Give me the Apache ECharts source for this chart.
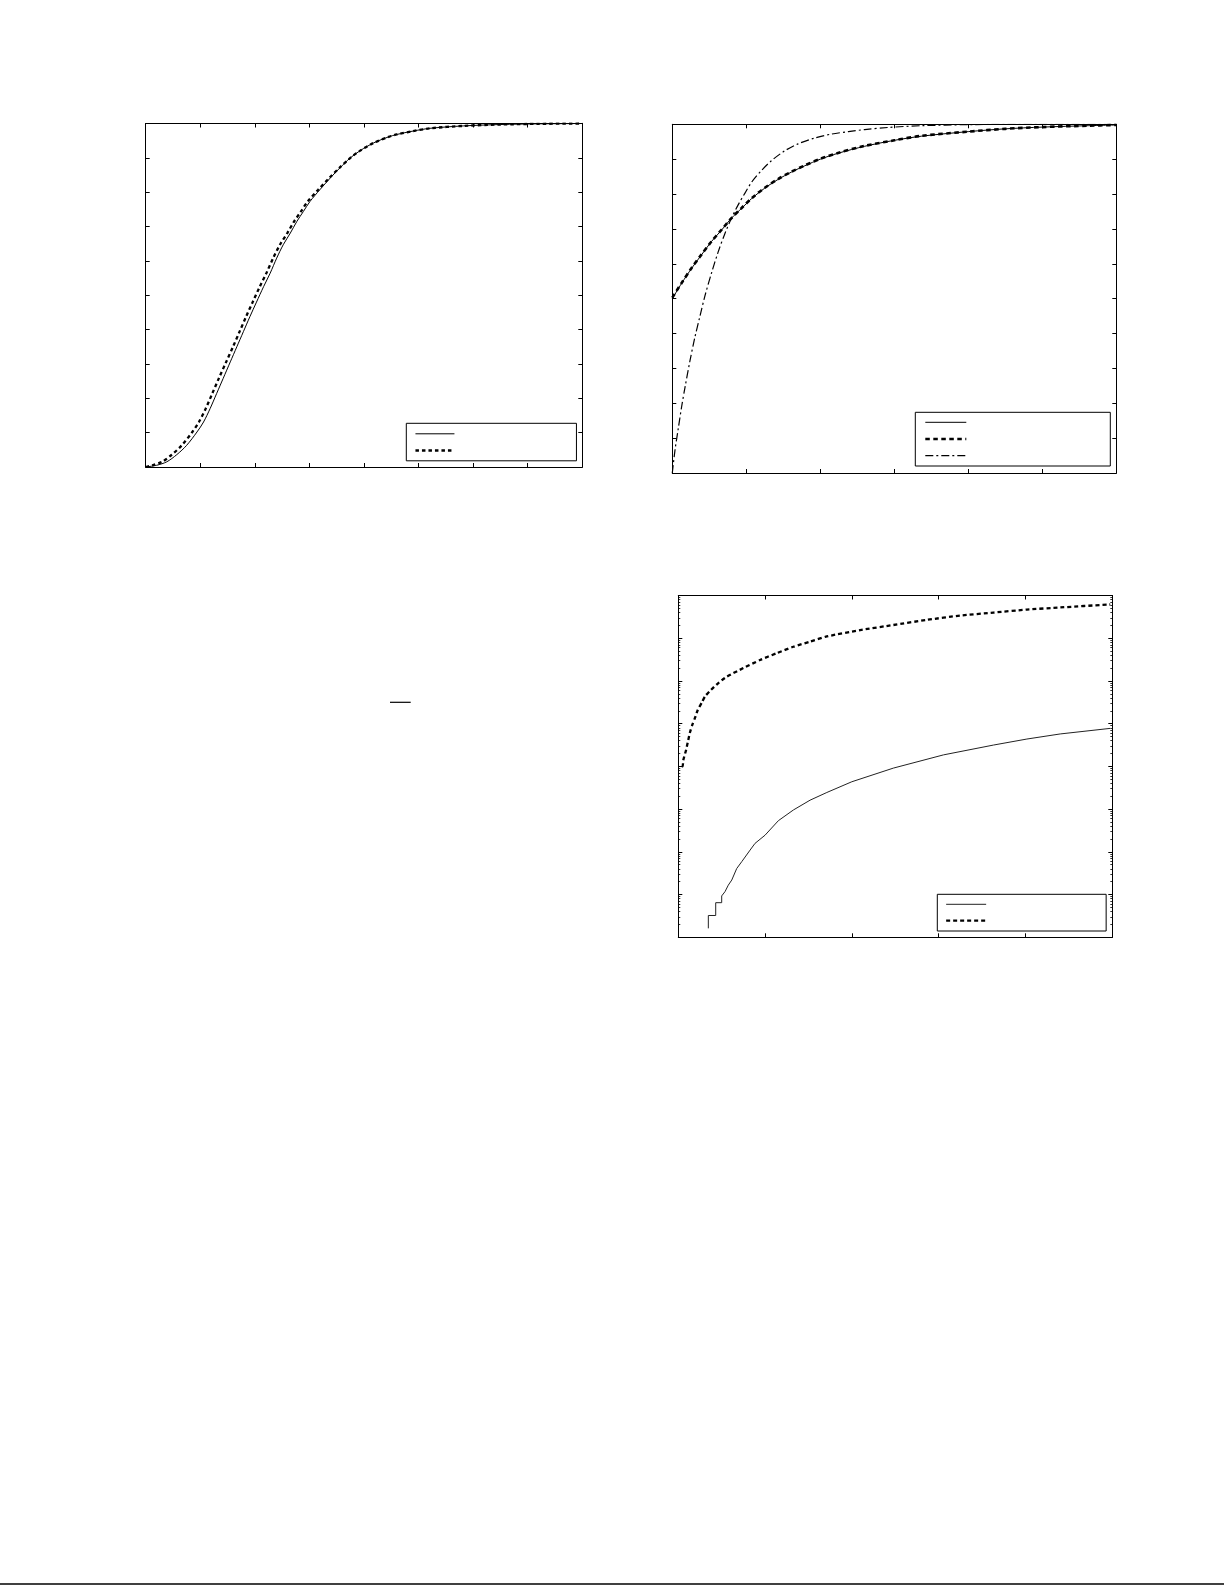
<!DOCTYPE html>
<html>
<head>
<meta charset="utf-8">
<script src="https://cdn.jsdelivr.net/npm/echarts@6/dist/echarts.min.js"></script>
<style>
html,body{margin:0;padding:0;background:#fff;}
#c{width:1225px;height:1585px;}
</style>
</head>
<body>
<div id="c"></div>
<script>
// ---- Panel 1 (top-left): two S-shaped CDF curves ----
const p1SolidX = [0, 0.2, 0.385, 0.57, 0.75, 0.94, 1.06, 1.18, 1.3, 1.42, 1.55, 1.67, 1.79, 1.91, 2.03, 2.16, 2.28, 2.4, 2.52, 2.65, 2.77, 2.89, 3.01, 3.19, 3.38, 3.56, 3.75, 3.93, 4.17, 4.45, 4.6, 4.9, 5.21, 5.82, 6.5, 7.2, 8];
const p1SolidY = [0, 0.005, 0.015, 0.036, 0.063, 0.102, 0.131, 0.17, 0.214, 0.258, 0.306, 0.35, 0.394, 0.438, 0.48, 0.525, 0.564, 0.608, 0.647, 0.681, 0.715, 0.744, 0.773, 0.807, 0.841, 0.871, 0.9, 0.921, 0.943, 0.961, 0.968, 0.978, 0.986, 0.993, 0.997, 0.999, 1.0];
const p1DashX = [0, 0.12, 0.3, 0.48, 0.66, 0.855, 0.975, 1.1, 1.22, 1.34, 1.475, 1.6, 1.72, 1.84, 1.96, 2.09, 2.21, 2.335, 2.46, 2.595, 2.72, 2.845, 2.97, 3.16, 3.36, 3.55, 3.75, 3.93, 4.17, 4.45, 4.6, 4.9, 5.21, 5.82, 6.5, 7.2, 8];
const p1DashY = [0, 0.005, 0.015, 0.036, 0.063, 0.102, 0.131, 0.17, 0.214, 0.258, 0.306, 0.35, 0.394, 0.438, 0.48, 0.525, 0.564, 0.608, 0.647, 0.681, 0.715, 0.744, 0.773, 0.807, 0.841, 0.871, 0.9, 0.921, 0.943, 0.961, 0.968, 0.978, 0.986, 0.993, 0.997, 0.999, 1.0];

// ---- Panel 2 (top-right): two nearly identical curves and a dash-dot curve ----
const p2SolidX = [0, 0.126, 0.261, 0.396, 0.53, 0.667, 0.8, 0.937, 1.072, 1.25, 1.43, 1.61, 1.79, 2.0, 2.24, 2.6, 3.0, 3.37, 4.0, 4.5, 5.0, 5.62, 6.0];
const p2SolidY = [0.5, 0.544, 0.587, 0.626, 0.664, 0.697, 0.731, 0.759, 0.787, 0.817, 0.842, 0.863, 0.881, 0.9, 0.917, 0.937, 0.954, 0.966, 0.979, 0.987, 0.992, 0.996, 0.998];
const p2DashX = [0, 0.126, 0.261, 0.396, 0.53, 0.667, 0.8, 0.937, 1.072, 1.25, 1.43, 1.61, 1.79, 2.0, 2.24, 2.6, 3.0, 3.37, 4.0, 4.5, 5.0, 5.62, 6.0];
const p2DashY = [0.503, 0.545, 0.588, 0.627, 0.664, 0.698, 0.731, 0.76, 0.788, 0.818, 0.843, 0.864, 0.882, 0.901, 0.918, 0.938, 0.954, 0.967, 0.979, 0.987, 0.992, 0.996, 0.998];
const p2DotX = [0, 0.036, 0.081, 0.126, 0.171, 0.239, 0.306, 0.374, 0.441, 0.532, 0.62, 0.71, 0.8, 0.89, 0.98, 1.072, 1.207, 1.342, 1.52, 1.7, 1.93, 2.15, 2.38, 2.6, 2.92, 3.37, 4.0, 5.0, 6.0];
const p2DotY = [0, 0.065, 0.128, 0.19, 0.245, 0.322, 0.39, 0.45, 0.508, 0.575, 0.634, 0.686, 0.731, 0.769, 0.802, 0.834, 0.868, 0.896, 0.924, 0.944, 0.961, 0.972, 0.979, 0.985, 0.991, 0.996, 0.999, 1.0, 1.0];

// ---- Panel 3 (bottom-right): log-scale y ----
const p3SolidX = [0.346, 0.346, 0.431, 0.431, 0.5, 0.5, 0.538, 0.576, 0.616, 0.673, 0.731, 0.827, 0.884, 0.999, 1.153, 1.326, 1.518, 1.711, 1.999, 2.478, 3.055, 3.631, 4.016, 4.4, 4.976];
const p3SolidY = [1.62e-8, 3.24e-8, 3.24e-8, 6.46e-8, 6.46e-8, 9.3e-8, 1.17e-7, 1.66e-7, 2.19e-7, 4.07e-7, 5.89e-7, 1.1e-6, 1.58e-6, 2.45e-6, 5.37e-6, 9.55e-6, 1.62e-5, 2.45e-5, 4.37e-5, 9.12e-5, 1.86e-4, 3.16e-4, 4.37e-4, 5.75e-4, 7.76e-4];
const p3DashX = [0.04, 0.05, 0.058, 0.089, 0.115, 0.135, 0.161, 0.193, 0.224, 0.27, 0.308, 0.357, 0.412, 0.461, 0.558, 0.749, 0.942, 1.134, 1.326, 1.518, 1.711, 2.095, 2.478, 2.863, 3.247, 3.631, 4.016, 4.4, 4.976];
const p3DashY = [1e-4, 1e-4, 1.41e-4, 2.4e-4, 4.17e-4, 6.31e-4, 9.33e-4, 1.38e-3, 2.09e-3, 3.09e-3, 4.37e-3, 5.62e-3, 7.24e-3, 8.91e-3, 1.26e-2, 2.0e-2, 3.09e-2, 4.47e-2, 6.31e-2, 8.32e-2, 0.11, 0.155, 0.204, 0.269, 0.339, 0.398, 0.468, 0.525, 0.617];

const zip = (xs, ys) => xs.map((x, i) => [x, ys[i]]);

// minor tick positions for log axis (2..9 in each decade)
const logMinor = [];
for (let e = -8; e < 0; e++) for (let m = 2; m <= 9; m++) logMinor.push(m * Math.pow(10, e));

const grids = [
  {left: 145.7, top: 123.5, width: 436.6, height: 343.5},
  {left: 672.3, top: 124.3, width: 444, height: 348.7},
  {left: 678.3, top: 595.5, width: 434, height: 341.8}
];

const axLine = {show: true, onZero: false, lineStyle: {color: '#000', width: 1}};
const majTick = {show: true, inside: true, length: 4, lineStyle: {color: '#000', width: 1}};

function xAxes(gi, max) {
  const base = {
    type: 'value', gridIndex: gi, min: 0, max: max, interval: 1,
    axisLine: axLine, axisTick: majTick,
    axisLabel: {show: false}, splitLine: {show: false}
  };
  return [Object.assign({position: 'bottom'}, base), Object.assign({position: 'top'}, base)];
}
function yAxesLin(gi) {
  const base = {
    type: 'value', gridIndex: gi, min: 0, max: 1, interval: 0.1,
    axisLine: axLine, axisTick: majTick,
    axisLabel: {show: false}, splitLine: {show: false}
  };
  return [Object.assign({position: 'left'}, base), Object.assign({position: 'right'}, base)];
}
function yAxesLog(gi) {
  const base = {
    type: 'log', logBase: 10, gridIndex: gi, min: 1e-8, max: 1, interval: 1,
    axisLine: axLine, axisTick: majTick,
    axisLabel: {show: false}, splitLine: {show: false}
  };
  const minor = {
    type: 'log', logBase: 10, gridIndex: gi, min: 1e-8, max: 1,
    axisLine: {show: false, onZero: false},
    axisTick: {show: true, inside: true, length: 2, customValues: logMinor, lineStyle: {color: '#000', width: 0.8}},
    axisLabel: {show: false}, splitLine: {show: false}
  };
  return [
    Object.assign({position: 'left'}, base), Object.assign({position: 'right'}, base),
    Object.assign({position: 'left'}, minor), Object.assign({position: 'right'}, minor)
  ];
}

const xAxis = [].concat(xAxes(0, 8), xAxes(1, 6), xAxes(2, 5));
const yAxis = [].concat(yAxesLin(0), yAxesLin(1), yAxesLog(2));

const lineBase = {type: 'line', symbol: 'none', showSymbol: false, animation: false, silent: true};
const series = [
  Object.assign({}, lineBase, {name: 'a1', xAxisIndex: 0, yAxisIndex: 0, data: zip(p1SolidX, p1SolidY), smooth: 0.3,
    lineStyle: {color: '#000', width: 1, type: 'solid'}, itemStyle: {color: '#000'}}),
  Object.assign({}, lineBase, {name: 'a2', xAxisIndex: 0, yAxisIndex: 0, data: zip(p1DashX, p1DashY), smooth: 0.3,
    lineStyle: {color: '#000', width: 2.3, type: [3.5, 3]}, itemStyle: {color: '#000'}}),
  Object.assign({}, lineBase, {name: 'b1', xAxisIndex: 2, yAxisIndex: 2, data: zip(p2SolidX, p2SolidY), smooth: 0.3,
    lineStyle: {color: '#000', width: 1, type: 'solid'}, itemStyle: {color: '#000'}}),
  Object.assign({}, lineBase, {name: 'b2', xAxisIndex: 2, yAxisIndex: 2, data: zip(p2DashX, p2DashY), smooth: 0.3,
    lineStyle: {color: '#000', width: 2.6, type: [4.5, 3.5]}, itemStyle: {color: '#000'}}),
  Object.assign({}, lineBase, {name: 'b3', xAxisIndex: 2, yAxisIndex: 2, data: zip(p2DotX, p2DotY), smooth: 0.3,
    lineStyle: {color: '#000', width: 1.2, type: [8, 3, 2, 3]}, itemStyle: {color: '#000'}}),
  Object.assign({}, lineBase, {name: 'c1', xAxisIndex: 4, yAxisIndex: 4, data: zip(p3SolidX, p3SolidY), smooth: false,
    lineStyle: {color: '#222', width: 1, type: 'solid'}, itemStyle: {color: '#222'}}),
  Object.assign({}, lineBase, {name: 'c2', xAxisIndex: 4, yAxisIndex: 4, data: zip(p3DashX, p3DashY), smooth: 0.2,
    lineStyle: {color: '#000', width: 2.3, type: [4, 3]}, itemStyle: {color: '#000'}})
];

function legendBox(names, left, top, pad, itemW, gap, textW) {
  return {
    data: names, orient: 'vertical', left: left, top: top,
    padding: pad, itemWidth: itemW, itemHeight: 14, itemGap: gap,
    borderColor: '#000', borderWidth: 1, backgroundColor: '#fff',
    selectedMode: false, formatter: () => ' ',
    itemStyle: {color: 'rgba(0,0,0,0)', borderWidth: 0, opacity: 0},
    lineStyle: {width: 'inherit', type: 'inherit', color: 'inherit'},
    textStyle: {fontSize: 10, lineHeight: 14, width: textW, color: '#000'}
  };
}

const legend = [
  legendBox(['a1', 'a2'], 406.3, 423.3, [3.5, 5, 3.3, 8], 39, 2.7, 112),
  legendBox(['b1', 'b2', 'b3'], 915.3, 412.3, [3, 5, 3.3, 8.7], 41, 2.7, 134),
  legendBox(['c1', 'c2'], 937.3, 894.3, [3, 5, 3.3, 7.7], 40, 2.4, 110)
];

const chart = echarts.init(document.getElementById('c'), null, {renderer: 'canvas'});
chart.setOption({
  backgroundColor: '#fff',
  animation: false,
  grid: grids,
  xAxis: xAxis,
  yAxis: yAxis,
  legend: legend,
  series: series,
  graphic: [
    {type: 'line', shape: {x1: 390, y1: 702.3, x2: 410.7, y2: 702.3}, style: {stroke: '#000', lineWidth: 1.2}},
    {type: 'line', shape: {x1: 0, y1: 1584, x2: 1224, y2: 1584}, style: {stroke: '#000', lineWidth: 1.6}}
  ]
});
</script>
</body>
</html>
